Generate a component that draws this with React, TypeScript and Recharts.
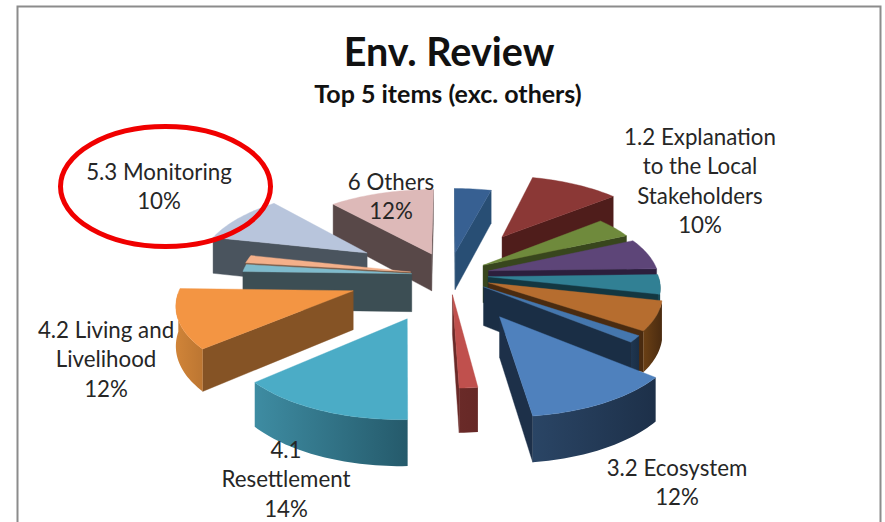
import React from "react";
import { PieChart, Pie } from "recharts";

const names = ["Blue small","1.2 Explanation to the Local Stakeholders","Green","Purple","Teal","Orange","Blue thin","3.2 Ecosystem","Red thin","4.1 Resettlement","4.2 Living and Livelihood","Pale blue","Pale orange","5.3 Monitoring","6 Others"];
const values = [4,10,4.2,6.4,4,6.1,1.4,12,1.5,14,12,1.5,1.6,10,11.5];
const tops = ["#376092","#8B3836","#6F8A3C","#5D4578","#318094","#B66D2F","#4577AE","#4F81BD","#C0504D","#4BACC6","#F39543","#7FBBCC","#F4B08A","#B8C5DC","#DDB9B8"];
const faces = ["#284E74","#4F1D1B","#38461D","#2C1F3D","#133741","#4A2B10","#1A2E45","#1D3049","#6A2A28","#2F6E80","#855325","#3C4E54","#7A5A45","#4A545E","#584848"];
const wallsLight = ["#2A4C73","#5A2220","#3F4E20","#312344","#1A5564","#6B4015","#1F3650","#2A4565","#6A2A28","#3E8CA2","#D08438","#3C4E54","#7A5A45","#4A545E","#584848"];
const wallsDark = ["#2A4C73","#4F1D1B","#38461D","#2C1F3D","#133741","#4A2B10","#1A2E45","#1D3049","#662826","#255A6B","#BC7632","#3C4E54","#7A5A45","#4A545E","#584848"];
const explosion = [0.3,0.62,0.24,0.24,0.23,0.25,0.25,0.58,0.25,0.58,0.585,0.22,0.23,0.58,0.3];

const labelLines: Record<string, string[]> = {
  "1.2 Explanation to the Local Stakeholders": ["1.2 Explanation", "to the Local", "Stakeholders"],
  "3.2 Ecosystem": ["3.2 Ecosystem"],
  "4.1 Resettlement": ["4.1", "Resettlement"],
  "4.2 Living and Livelihood": ["4.2 Living and", "Livelihood"],
  "5.3 Monitoring": ["5.3 Monitoring"],
  "6 Others": ["6 Others"],
};
const labelSpots: Record<string, [number, number]> = {
  "1.2 Explanation to the Local Stakeholders": [700, 145],
  "3.2 Ecosystem": [677, 476],
  "4.1 Resettlement": [286, 458],
  "4.2 Living and Livelihood": [106, 338],
  "5.3 Monitoring": [159, 180],
  "6 Others": [391, 190],
};

const rows = names.map((name, i) => ({ name, value: values[i], idx: i }));
const SPLIT = 9;
const rightRows = rows.slice(0, SPLIT);
const leftRows = rows.slice(SPLIT).reverse();
const sum = (a: { value: number }[]) => a.reduce((s, r) => s + r.value, 0);
const total = sum(rows);

const FONT = "Lato, 'Open Sans', sans-serif";
const CX = 449, CY = 275, R = 170;
const SQUASH = 0.453, PERSP = 0.12, DEPTH = 38;
const rad = (d: number) => (d * Math.PI) / 180;

function Slice3D(props: any) {
  const { cx, cy, outerRadius, startAngle, endAngle, payload } = props;
  const idx = payload?.idx ?? props.idx;
  const a0 = Math.min(startAngle, endAngle), a1 = Math.max(startAngle, endAngle);
  const mid = (a0 + a1) / 2;
  const e = explosion[idx];
  const ox = e * Math.cos(rad(mid)), oy = e * Math.sin(rad(mid));
  const proj = (u: number, v: number, h = 0): [number, number] => {
    const s = 1 / (1 + PERSP * v);
    return [cx + u * outerRadius * s, cy - v * outerRadius * SQUASH * s + h * DEPTH * s];
  };
  const at = (deg: number, r: number, h = 0) => proj(ox + r * Math.cos(rad(deg)), oy + r * Math.sin(rad(deg)), h);
  const pts = (list: [number, number][]) => list.map((p, i) => `${i ? "L" : "M"}${p[0].toFixed(2)} ${p[1].toFixed(2)}`).join(" ") + " Z";
  const steps = Math.max(2, Math.ceil((a1 - a0) / 1.5));
  const arc = (from: number, to: number, h: number) => {
    const n = Math.max(2, Math.ceil(Math.abs(to - from) / 1.5));
    const out: [number, number][] = [];
    for (let i = 0; i <= n; i++) out.push(at(from + ((to - from) * i) / n, 1, h));
    return out;
  };
  const top: [number, number][] = [at(a0, 0), ...arc(a0, a1, 0)];
  const apex = at(a0, 0);
  const interior = at(mid, 0.6);
  const face = (deg: number) => {
    const p = at(deg, 1);
    const dx = p[0] - apex[0], dy = p[1] - apex[1];
    let nx = -dy, ny = dx;
    if (nx * (interior[0] - apex[0]) + ny * (interior[1] - apex[1]) > 0) { nx = -nx; ny = -ny; }
    if (ny <= 0) return null;
    return <path d={pts([apex, p, at(deg, 1, 1), at(deg, 0, 1)])} fill={faces[idx]} stroke={faces[idx]} strokeWidth={0.4} />;
  };
  const norm = (d: number) => ((d % 360) + 360) % 360;
  const segs: [number, number][] = [];
  let cur: number | null = null;
  for (let i = 0; i <= steps; i++) {
    const d = a0 + ((a1 - a0) * i) / steps;
    const front = norm(d) >= 180;
    if (front && cur === null) cur = d;
    if ((!front || i === steps) && cur !== null) { if (d > cur) segs.push([cur, d]); cur = null; }
  }
  const gid = `wall-${idx}`;
  return (
    <g>
      <defs>
        <linearGradient id={gid} x1="0" y1="0" x2="1" y2="0">
          <stop offset="0" stopColor={wallsLight[idx]} />
          <stop offset="1" stopColor={wallsDark[idx]} />
        </linearGradient>
      </defs>
      {face(a0)}
      {face(a1)}
      {segs.map(([f, t], i) => (
        <path key={i} d={pts([...arc(f, t, 0), ...arc(t, f, 1)])} fill={`url(#${gid})`} />
      ))}
      <path d={pts(top)} fill={tops[idx]} stroke={tops[idx]} strokeWidth={0.4} />
    </g>
  );
}

function SliceLabel(props: any) {
  const name = props.name ?? props.payload?.name;
  const lines = labelLines[name];
  if (!lines) return null;
  const value = props.value ?? props.payload?.value;
  const [x, y] = labelSpots[name];
  return (
    <text x={x} y={y} textAnchor="middle" fontFamily={FONT} fontSize={22.3} fill="#262626">
      {[...lines, `${Math.round(value)}%`].map((t, i) => (
        <tspan key={i} x={x} dy={i ? 29.3 : 0}>{t}</tspan>
      ))}
    </text>
  );
}

export default function App() {
  const rightSweep = (sum(rightRows) / total) * 360;
  const leftSweep = (sum(leftRows) / total) * 360;
  return (
    <div style={{ position: "absolute", left: 0, top: 0, width: 885, height: 522, background: "#fff", overflow: "hidden" }}>
      <svg width={885} height={522} style={{ position: "absolute", left: 0, top: 0 }}>
        <path d="M17.5 530 V6.5 H880.5 V530" fill="none" stroke="#8C8C8C" strokeWidth={2} />
        <text x={449} y={66} textAnchor="middle" fontFamily={FONT} fontWeight={700} fontSize={39.5} fill="#111">Env. Review</text>
        <text x={448} y={103} textAnchor="middle" fontFamily={FONT} fontWeight={700} fontSize={25} fill="#111">Top 5 items (exc. others)</text>
      </svg>
      <div style={{ position: "absolute", left: 0, top: 0 }}>
        <PieChart width={885} height={522} margin={{ top: 0, right: 0, bottom: 0, left: 0 }}>
          <Pie data={rightRows} dataKey="value" nameKey="name" cx={CX} cy={CY} outerRadius={R} innerRadius={0}
            startAngle={90} endAngle={90 - rightSweep} paddingAngle={0} stroke="none" isAnimationActive={false}
            shape={Slice3D} label={SliceLabel} labelLine={false} />
          <Pie data={leftRows} dataKey="value" nameKey="name" cx={CX} cy={CY} outerRadius={R} innerRadius={0}
            startAngle={90} endAngle={90 + leftSweep} paddingAngle={0} stroke="none" isAnimationActive={false}
            shape={Slice3D} label={SliceLabel} labelLine={false} />
        </PieChart>
      </div>
      <svg width={885} height={522} style={{ position: "absolute", left: 0, top: 0, pointerEvents: "none" }}>
        <ellipse cx={165.5} cy={186.5} rx={105} ry={60} fill="none" stroke="#F00000" strokeWidth={5} />
      </svg>
    </div>
  );
}
